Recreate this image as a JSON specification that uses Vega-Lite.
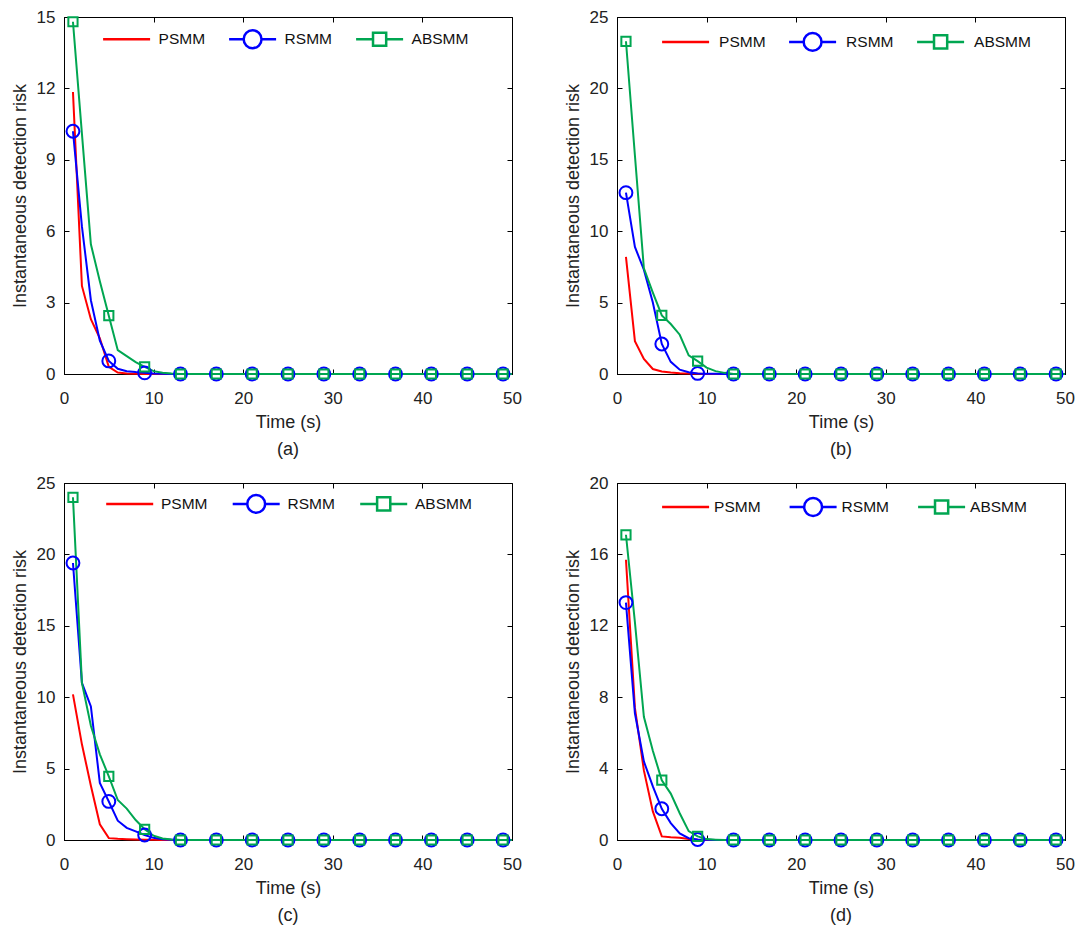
{
  "$schema": "https://vega.github.io/schema/vega-lite/v6.json",
  "padding": {"left": 10, "top": 7, "right": 5, "bottom": 5},
  "background": "white",
  "datasets": {
    "risk": [
      {"panel":"a","method":"PSMM","t":1,"risk":11.85},{"panel":"a","method":"PSMM","t":2,"risk":3.7},{"panel":"a","method":"PSMM","t":3,"risk":2.3},{"panel":"a","method":"PSMM","t":4,"risk":1.5},{"panel":"a","method":"PSMM","t":5,"risk":0.3},{"panel":"a","method":"PSMM","t":6,"risk":0.06},{"panel":"a","method":"PSMM","t":7,"risk":0.02},{"panel":"a","method":"PSMM","t":8,"risk":0.01},{"panel":"a","method":"PSMM","t":9,"risk":0},{"panel":"a","method":"PSMM","t":10,"risk":0},{"panel":"a","method":"PSMM","t":50,"risk":0},
      {"panel":"a","method":"RSMM","t":1,"risk":10.2},{"panel":"a","method":"RSMM","t":2,"risk":6.2},{"panel":"a","method":"RSMM","t":3,"risk":3.1},{"panel":"a","method":"RSMM","t":4,"risk":1.4},{"panel":"a","method":"RSMM","t":5,"risk":0.55},{"panel":"a","method":"RSMM","t":6,"risk":0.22},{"panel":"a","method":"RSMM","t":7,"risk":0.12},{"panel":"a","method":"RSMM","t":8,"risk":0.08},{"panel":"a","method":"RSMM","t":9,"risk":0.05},{"panel":"a","method":"RSMM","t":10,"risk":0.02},{"panel":"a","method":"RSMM","t":11,"risk":0.01},{"panel":"a","method":"RSMM","t":12,"risk":0},{"panel":"a","method":"RSMM","t":13,"risk":0},{"panel":"a","method":"RSMM","t":17,"risk":0},{"panel":"a","method":"RSMM","t":21,"risk":0},{"panel":"a","method":"RSMM","t":25,"risk":0},{"panel":"a","method":"RSMM","t":29,"risk":0},{"panel":"a","method":"RSMM","t":33,"risk":0},{"panel":"a","method":"RSMM","t":37,"risk":0},{"panel":"a","method":"RSMM","t":41,"risk":0},{"panel":"a","method":"RSMM","t":45,"risk":0},{"panel":"a","method":"RSMM","t":49,"risk":0},{"panel":"a","method":"RSMM","t":50,"risk":0},
      {"panel":"a","method":"ABSMM","t":1,"risk":14.8},{"panel":"a","method":"ABSMM","t":2,"risk":10.1},{"panel":"a","method":"ABSMM","t":3,"risk":5.45},{"panel":"a","method":"ABSMM","t":4,"risk":3.9},{"panel":"a","method":"ABSMM","t":5,"risk":2.45},{"panel":"a","method":"ABSMM","t":6,"risk":1.0},{"panel":"a","method":"ABSMM","t":7,"risk":0.75},{"panel":"a","method":"ABSMM","t":8,"risk":0.5},{"panel":"a","method":"ABSMM","t":9,"risk":0.3},{"panel":"a","method":"ABSMM","t":10,"risk":0.12},{"panel":"a","method":"ABSMM","t":11,"risk":0.05},{"panel":"a","method":"ABSMM","t":12,"risk":0.02},{"panel":"a","method":"ABSMM","t":13,"risk":0},{"panel":"a","method":"ABSMM","t":17,"risk":0},{"panel":"a","method":"ABSMM","t":21,"risk":0},{"panel":"a","method":"ABSMM","t":25,"risk":0},{"panel":"a","method":"ABSMM","t":29,"risk":0},{"panel":"a","method":"ABSMM","t":33,"risk":0},{"panel":"a","method":"ABSMM","t":37,"risk":0},{"panel":"a","method":"ABSMM","t":41,"risk":0},{"panel":"a","method":"ABSMM","t":45,"risk":0},{"panel":"a","method":"ABSMM","t":49,"risk":0},{"panel":"a","method":"ABSMM","t":50,"risk":0},

      {"panel":"b","method":"PSMM","t":1,"risk":8.2},{"panel":"b","method":"PSMM","t":2,"risk":2.3},{"panel":"b","method":"PSMM","t":3,"risk":1.05},{"panel":"b","method":"PSMM","t":4,"risk":0.35},{"panel":"b","method":"PSMM","t":5,"risk":0.18},{"panel":"b","method":"PSMM","t":6,"risk":0.1},{"panel":"b","method":"PSMM","t":7,"risk":0.05},{"panel":"b","method":"PSMM","t":8,"risk":0.03},{"panel":"b","method":"PSMM","t":9,"risk":0.01},{"panel":"b","method":"PSMM","t":10,"risk":0},{"panel":"b","method":"PSMM","t":50,"risk":0},
      {"panel":"b","method":"RSMM","t":1,"risk":12.7},{"panel":"b","method":"RSMM","t":2,"risk":8.9},{"panel":"b","method":"RSMM","t":3,"risk":7.3},{"panel":"b","method":"RSMM","t":4,"risk":5.0},{"panel":"b","method":"RSMM","t":5,"risk":2.1},{"panel":"b","method":"RSMM","t":6,"risk":0.85},{"panel":"b","method":"RSMM","t":7,"risk":0.3},{"panel":"b","method":"RSMM","t":8,"risk":0.12},{"panel":"b","method":"RSMM","t":9,"risk":0.04},{"panel":"b","method":"RSMM","t":10,"risk":0.02},{"panel":"b","method":"RSMM","t":11,"risk":0.01},{"panel":"b","method":"RSMM","t":12,"risk":0},{"panel":"b","method":"RSMM","t":13,"risk":0},{"panel":"b","method":"RSMM","t":17,"risk":0},{"panel":"b","method":"RSMM","t":21,"risk":0},{"panel":"b","method":"RSMM","t":25,"risk":0},{"panel":"b","method":"RSMM","t":29,"risk":0},{"panel":"b","method":"RSMM","t":33,"risk":0},{"panel":"b","method":"RSMM","t":37,"risk":0},{"panel":"b","method":"RSMM","t":41,"risk":0},{"panel":"b","method":"RSMM","t":45,"risk":0},{"panel":"b","method":"RSMM","t":49,"risk":0},{"panel":"b","method":"RSMM","t":50,"risk":0},
      {"panel":"b","method":"ABSMM","t":1,"risk":23.3},{"panel":"b","method":"ABSMM","t":2,"risk":15.3},{"panel":"b","method":"ABSMM","t":3,"risk":7.4},{"panel":"b","method":"ABSMM","t":4,"risk":5.7},{"panel":"b","method":"ABSMM","t":5,"risk":4.1},{"panel":"b","method":"ABSMM","t":6,"risk":3.5},{"panel":"b","method":"ABSMM","t":7,"risk":2.75},{"panel":"b","method":"ABSMM","t":8,"risk":1.3},{"panel":"b","method":"ABSMM","t":9,"risk":0.9},{"panel":"b","method":"ABSMM","t":10,"risk":0.45},{"panel":"b","method":"ABSMM","t":11,"risk":0.2},{"panel":"b","method":"ABSMM","t":12,"risk":0.08},{"panel":"b","method":"ABSMM","t":13,"risk":0},{"panel":"b","method":"ABSMM","t":17,"risk":0},{"panel":"b","method":"ABSMM","t":21,"risk":0},{"panel":"b","method":"ABSMM","t":25,"risk":0},{"panel":"b","method":"ABSMM","t":29,"risk":0},{"panel":"b","method":"ABSMM","t":33,"risk":0},{"panel":"b","method":"ABSMM","t":37,"risk":0},{"panel":"b","method":"ABSMM","t":41,"risk":0},{"panel":"b","method":"ABSMM","t":45,"risk":0},{"panel":"b","method":"ABSMM","t":49,"risk":0},{"panel":"b","method":"ABSMM","t":50,"risk":0},

      {"panel":"c","method":"PSMM","t":1,"risk":10.2},{"panel":"c","method":"PSMM","t":2,"risk":6.7},{"panel":"c","method":"PSMM","t":3,"risk":3.8},{"panel":"c","method":"PSMM","t":4,"risk":1.1},{"panel":"c","method":"PSMM","t":5,"risk":0.13},{"panel":"c","method":"PSMM","t":6,"risk":0.08},{"panel":"c","method":"PSMM","t":7,"risk":0.05},{"panel":"c","method":"PSMM","t":8,"risk":0.03},{"panel":"c","method":"PSMM","t":9,"risk":0.02},{"panel":"c","method":"PSMM","t":10,"risk":0.01},{"panel":"c","method":"PSMM","t":11,"risk":0},{"panel":"c","method":"PSMM","t":50,"risk":0},
      {"panel":"c","method":"RSMM","t":1,"risk":19.4},{"panel":"c","method":"RSMM","t":2,"risk":11.0},{"panel":"c","method":"RSMM","t":3,"risk":9.35},{"panel":"c","method":"RSMM","t":4,"risk":4.0},{"panel":"c","method":"RSMM","t":5,"risk":2.7},{"panel":"c","method":"RSMM","t":6,"risk":1.35},{"panel":"c","method":"RSMM","t":7,"risk":0.85},{"panel":"c","method":"RSMM","t":8,"risk":0.6},{"panel":"c","method":"RSMM","t":9,"risk":0.35},{"panel":"c","method":"RSMM","t":10,"risk":0.15},{"panel":"c","method":"RSMM","t":11,"risk":0.05},{"panel":"c","method":"RSMM","t":12,"risk":0.02},{"panel":"c","method":"RSMM","t":13,"risk":0},{"panel":"c","method":"RSMM","t":17,"risk":0},{"panel":"c","method":"RSMM","t":21,"risk":0},{"panel":"c","method":"RSMM","t":25,"risk":0},{"panel":"c","method":"RSMM","t":29,"risk":0},{"panel":"c","method":"RSMM","t":33,"risk":0},{"panel":"c","method":"RSMM","t":37,"risk":0},{"panel":"c","method":"RSMM","t":41,"risk":0},{"panel":"c","method":"RSMM","t":45,"risk":0},{"panel":"c","method":"RSMM","t":49,"risk":0},{"panel":"c","method":"RSMM","t":50,"risk":0},
      {"panel":"c","method":"ABSMM","t":1,"risk":24.0},{"panel":"c","method":"ABSMM","t":2,"risk":11.0},{"panel":"c","method":"ABSMM","t":3,"risk":8.0},{"panel":"c","method":"ABSMM","t":4,"risk":6.0},{"panel":"c","method":"ABSMM","t":5,"risk":4.45},{"panel":"c","method":"ABSMM","t":6,"risk":2.8},{"panel":"c","method":"ABSMM","t":7,"risk":2.2},{"panel":"c","method":"ABSMM","t":8,"risk":1.4},{"panel":"c","method":"ABSMM","t":9,"risk":0.75},{"panel":"c","method":"ABSMM","t":10,"risk":0.3},{"panel":"c","method":"ABSMM","t":11,"risk":0.1},{"panel":"c","method":"ABSMM","t":12,"risk":0.03},{"panel":"c","method":"ABSMM","t":13,"risk":0},{"panel":"c","method":"ABSMM","t":17,"risk":0},{"panel":"c","method":"ABSMM","t":21,"risk":0},{"panel":"c","method":"ABSMM","t":25,"risk":0},{"panel":"c","method":"ABSMM","t":29,"risk":0},{"panel":"c","method":"ABSMM","t":33,"risk":0},{"panel":"c","method":"ABSMM","t":37,"risk":0},{"panel":"c","method":"ABSMM","t":41,"risk":0},{"panel":"c","method":"ABSMM","t":45,"risk":0},{"panel":"c","method":"ABSMM","t":49,"risk":0},{"panel":"c","method":"ABSMM","t":50,"risk":0},

      {"panel":"d","method":"PSMM","t":1,"risk":15.7},{"panel":"d","method":"PSMM","t":2,"risk":7.4},{"panel":"d","method":"PSMM","t":3,"risk":3.9},{"panel":"d","method":"PSMM","t":4,"risk":1.6},{"panel":"d","method":"PSMM","t":5,"risk":0.2},{"panel":"d","method":"PSMM","t":6,"risk":0.15},{"panel":"d","method":"PSMM","t":7,"risk":0.12},{"panel":"d","method":"PSMM","t":8,"risk":0.06},{"panel":"d","method":"PSMM","t":9,"risk":0.02},{"panel":"d","method":"PSMM","t":10,"risk":0},{"panel":"d","method":"PSMM","t":50,"risk":0},
      {"panel":"d","method":"RSMM","t":1,"risk":13.3},{"panel":"d","method":"RSMM","t":2,"risk":7.1},{"panel":"d","method":"RSMM","t":3,"risk":4.4},{"panel":"d","method":"RSMM","t":4,"risk":3.0},{"panel":"d","method":"RSMM","t":5,"risk":1.75},{"panel":"d","method":"RSMM","t":6,"risk":0.95},{"panel":"d","method":"RSMM","t":7,"risk":0.37},{"panel":"d","method":"RSMM","t":8,"risk":0.1},{"panel":"d","method":"RSMM","t":9,"risk":0.03},{"panel":"d","method":"RSMM","t":10,"risk":0.01},{"panel":"d","method":"RSMM","t":11,"risk":0},{"panel":"d","method":"RSMM","t":12,"risk":0},{"panel":"d","method":"RSMM","t":13,"risk":0},{"panel":"d","method":"RSMM","t":17,"risk":0},{"panel":"d","method":"RSMM","t":21,"risk":0},{"panel":"d","method":"RSMM","t":25,"risk":0},{"panel":"d","method":"RSMM","t":29,"risk":0},{"panel":"d","method":"RSMM","t":33,"risk":0},{"panel":"d","method":"RSMM","t":37,"risk":0},{"panel":"d","method":"RSMM","t":41,"risk":0},{"panel":"d","method":"RSMM","t":45,"risk":0},{"panel":"d","method":"RSMM","t":49,"risk":0},{"panel":"d","method":"RSMM","t":50,"risk":0},
      {"panel":"d","method":"ABSMM","t":1,"risk":17.1},{"panel":"d","method":"ABSMM","t":2,"risk":12.2},{"panel":"d","method":"ABSMM","t":3,"risk":6.9},{"panel":"d","method":"ABSMM","t":4,"risk":5.0},{"panel":"d","method":"ABSMM","t":5,"risk":3.35},{"panel":"d","method":"ABSMM","t":6,"risk":2.6},{"panel":"d","method":"ABSMM","t":7,"risk":1.5},{"panel":"d","method":"ABSMM","t":8,"risk":0.5},{"panel":"d","method":"ABSMM","t":9,"risk":0.2},{"panel":"d","method":"ABSMM","t":10,"risk":0.05},{"panel":"d","method":"ABSMM","t":11,"risk":0.02},{"panel":"d","method":"ABSMM","t":12,"risk":0},{"panel":"d","method":"ABSMM","t":13,"risk":0},{"panel":"d","method":"ABSMM","t":17,"risk":0},{"panel":"d","method":"ABSMM","t":21,"risk":0},{"panel":"d","method":"ABSMM","t":25,"risk":0},{"panel":"d","method":"ABSMM","t":29,"risk":0},{"panel":"d","method":"ABSMM","t":33,"risk":0},{"panel":"d","method":"ABSMM","t":37,"risk":0},{"panel":"d","method":"ABSMM","t":41,"risk":0},{"panel":"d","method":"ABSMM","t":45,"risk":0},{"panel":"d","method":"ABSMM","t":49,"risk":0},{"panel":"d","method":"ABSMM","t":50,"risk":0}
    ]
  },
  "config": {
    "font": "Liberation Sans",
    "view": {"stroke": "#000000", "strokeWidth": 1},
    "axis": {
      "labelFont": "Liberation Sans", "labelFontSize": 17, "labelColor": "#222222",
      "titleFont": "Liberation Sans", "titleFontSize": 18, "titleFontWeight": "normal", "titleColor": "#222222",
      "domainColor": "#000000", "domainWidth": 1, "tickColor": "#000000", "tickWidth": 1, "tickSize": -5,
      "grid": false, "labelFlush": false, "labelOverlap": false
    },
    "axisX": {"labelPadding": 21, "titlePadding": 7.5},
    "axisY": {"labelPadding": 14, "titlePadding": 7},
    "legend": {
      "direction": "horizontal", "orient": "none", "padding": 0, "symbolSize": 2209, "symbolStrokeWidth": 2.5,
      "labelFont": "Liberation Sans", "labelFontSize": 15.5, "labelColor": "#111111"
    },
    "title": {"font": "Liberation Sans", "fontSize": 18, "fontWeight": "normal", "color": "#222222", "orient": "bottom", "anchor": "middle", "frame": "group", "offset": 9}
  },
  "columns": 2,
  "spacing": {"row": 109, "column": 105},
  "bounds": "flush",
  "resolve": {"scale": {"color": "independent"}, "legend": {"color": "independent"}},
  "concat": [
    {
      "width": 448, "height": 357,
      "title": {"text": "(a)"},
      "data": {"name": "risk"},
      "transform": [{"filter": "datum.panel === 'a'"}],
      "layer": [
        {
          "mark": {"type": "line", "strokeWidth": 2},
          "encoding": {
            "x": {"field": "t", "type": "quantitative", "scale": {"domain": [0, 50], "nice": false}, "axis": {"orient": "bottom", "title": "Time (s)", "values": [0, 10, 20, 30, 40, 50]}},
            "y": {"field": "risk", "type": "quantitative", "scale": {"domain": [0, 15], "nice": false}, "axis": {"orient": "left", "title": "Instantaneous detection risk", "values": [0, 3, 6, 9, 12, 15]}},
            "color": {"field": "method", "type": "nominal", "sort": ["PSMM", "RSMM", "ABSMM"],
              "scale": {"domain": ["PSMM", "RSMM", "ABSMM"], "range": ["#FF0000", "#0000FF", "#00A651"]},
              "legend": {"title": null, "legendX": 37.6, "legendY": -3, "labelOffset": 7, "columnPadding": 18,
                "encode": {"symbols": {"update": {"fill": {"value": "transparent"}, "shape": {"signal": "datum.value === 'PSMM' ? 'M0,-0.45M0,0.45M-1,0H1' : (datum.value === 'RSMM' ? 'M0,-0.45M0,0.45M-1,0H-0.38M0.38,0H1M-0.38,0A0.38,0.38,0,1,1,0.38,0A0.38,0.38,0,1,1,-0.38,0' : 'M0,-0.45M0,0.45M-1,0H-0.28M0.28,0H1M-0.28,-0.28H0.28V0.28H-0.28Z')"}}}}}
            }
          }
        },
        {
          "transform": [{"filter": "datum.method === 'RSMM' && (datum.t - 1) % 4 === 0"}],
          "mark": {"type": "point", "shape": "circle", "size": 165, "strokeWidth": 2, "filled": false, "color": "#0000FF", "opacity": 1},
          "encoding": {
            "x": {"field": "t", "type": "quantitative", "axis": {"orient": "top", "labels": false, "title": null, "values": [10, 20, 30, 40]}},
            "y": {"field": "risk", "type": "quantitative", "axis": {"orient": "right", "labels": false, "title": null, "values": [3, 6, 9, 12]}}
          }
        },
        {
          "transform": [{"filter": "datum.method === 'ABSMM' && (datum.t - 1) % 4 === 0"}],
          "mark": {"type": "point", "shape": "square", "size": 85, "strokeWidth": 2, "filled": false, "color": "#00A651", "opacity": 1},
          "encoding": {
            "x": {"field": "t", "type": "quantitative", "axis": null},
            "y": {"field": "risk", "type": "quantitative", "axis": null}
          }
        }
      ],
      "resolve": {"axis": {"x": "independent", "y": "independent"}}
    },
    {
      "width": 448, "height": 357,
      "title": {"text": "(b)"},
      "data": {"name": "risk"},
      "transform": [{"filter": "datum.panel === 'b'"}],
      "layer": [
        {
          "mark": {"type": "line", "strokeWidth": 2},
          "encoding": {
            "x": {"field": "t", "type": "quantitative", "scale": {"domain": [0, 50], "nice": false}, "axis": {"orient": "bottom", "title": "Time (s)", "values": [0, 10, 20, 30, 40, 50]}},
            "y": {"field": "risk", "type": "quantitative", "scale": {"domain": [0, 25], "nice": false}, "axis": {"orient": "left", "title": "Instantaneous detection risk", "values": [0, 5, 10, 15, 20, 25]}},
            "color": {"field": "method", "type": "nominal", "sort": ["PSMM", "RSMM", "ABSMM"],
              "scale": {"domain": ["PSMM", "RSMM", "ABSMM"], "range": ["#FF0000", "#0000FF", "#00A651"]},
              "legend": {"title": null, "legendX": 43.6, "legendY": -0.3, "labelOffset": 8.5, "columnPadding": 18,
                "encode": {"symbols": {"update": {"fill": {"value": "transparent"}, "shape": {"signal": "datum.value === 'PSMM' ? 'M0,-0.45M0,0.45M-1,0H1' : (datum.value === 'RSMM' ? 'M0,-0.45M0,0.45M-1,0H-0.38M0.38,0H1M-0.38,0A0.38,0.38,0,1,1,0.38,0A0.38,0.38,0,1,1,-0.38,0' : 'M0,-0.45M0,0.45M-1,0H-0.28M0.28,0H1M-0.28,-0.28H0.28V0.28H-0.28Z')"}}}}}
            }
          }
        },
        {
          "transform": [{"filter": "datum.method === 'RSMM' && (datum.t - 1) % 4 === 0"}],
          "mark": {"type": "point", "shape": "circle", "size": 165, "strokeWidth": 2, "filled": false, "color": "#0000FF", "opacity": 1},
          "encoding": {
            "x": {"field": "t", "type": "quantitative", "axis": {"orient": "top", "labels": false, "title": null, "values": [10, 20, 30, 40]}},
            "y": {"field": "risk", "type": "quantitative", "axis": {"orient": "right", "labels": false, "title": null, "values": [5, 10, 15, 20]}}
          }
        },
        {
          "transform": [{"filter": "datum.method === 'ABSMM' && (datum.t - 1) % 4 === 0"}],
          "mark": {"type": "point", "shape": "square", "size": 85, "strokeWidth": 2, "filled": false, "color": "#00A651", "opacity": 1},
          "encoding": {
            "x": {"field": "t", "type": "quantitative", "axis": null},
            "y": {"field": "risk", "type": "quantitative", "axis": null}
          }
        }
      ],
      "resolve": {"axis": {"x": "independent", "y": "independent"}}
    },
    {
      "width": 448, "height": 357,
      "title": {"text": "(c)"},
      "data": {"name": "risk"},
      "transform": [{"filter": "datum.panel === 'c'"}],
      "layer": [
        {
          "mark": {"type": "line", "strokeWidth": 2},
          "encoding": {
            "x": {"field": "t", "type": "quantitative", "scale": {"domain": [0, 50], "nice": false}, "axis": {"orient": "bottom", "title": "Time (s)", "values": [0, 10, 20, 30, 40, 50]}},
            "y": {"field": "risk", "type": "quantitative", "scale": {"domain": [0, 25], "nice": false}, "axis": {"orient": "left", "title": "Instantaneous detection risk", "values": [0, 5, 10, 15, 20, 25]}},
            "color": {"field": "method", "type": "nominal", "sort": ["PSMM", "RSMM", "ABSMM"],
              "scale": {"domain": ["PSMM", "RSMM", "ABSMM"], "range": ["#FF0000", "#0000FF", "#00A651"]},
              "legend": {"title": null, "legendX": 40.7, "legendY": -4.3, "labelOffset": 6.3, "columnPadding": 19.5,
                "encode": {"symbols": {"update": {"fill": {"value": "transparent"}, "shape": {"signal": "datum.value === 'PSMM' ? 'M0,-0.45M0,0.45M-1,0H1' : (datum.value === 'RSMM' ? 'M0,-0.45M0,0.45M-1,0H-0.38M0.38,0H1M-0.38,0A0.38,0.38,0,1,1,0.38,0A0.38,0.38,0,1,1,-0.38,0' : 'M0,-0.45M0,0.45M-1,0H-0.28M0.28,0H1M-0.28,-0.28H0.28V0.28H-0.28Z')"}}}}}
            }
          }
        },
        {
          "transform": [{"filter": "datum.method === 'RSMM' && (datum.t - 1) % 4 === 0"}],
          "mark": {"type": "point", "shape": "circle", "size": 165, "strokeWidth": 2, "filled": false, "color": "#0000FF", "opacity": 1},
          "encoding": {
            "x": {"field": "t", "type": "quantitative", "axis": {"orient": "top", "labels": false, "title": null, "values": [10, 20, 30, 40]}},
            "y": {"field": "risk", "type": "quantitative", "axis": {"orient": "right", "labels": false, "title": null, "values": [5, 10, 15, 20]}}
          }
        },
        {
          "transform": [{"filter": "datum.method === 'ABSMM' && (datum.t - 1) % 4 === 0"}],
          "mark": {"type": "point", "shape": "square", "size": 85, "strokeWidth": 2, "filled": false, "color": "#00A651", "opacity": 1},
          "encoding": {
            "x": {"field": "t", "type": "quantitative", "axis": null},
            "y": {"field": "risk", "type": "quantitative", "axis": null}
          }
        }
      ],
      "resolve": {"axis": {"x": "independent", "y": "independent"}}
    },
    {
      "width": 448, "height": 357,
      "title": {"text": "(d)"},
      "data": {"name": "risk"},
      "transform": [{"filter": "datum.panel === 'd'"}],
      "layer": [
        {
          "mark": {"type": "line", "strokeWidth": 2},
          "encoding": {
            "x": {"field": "t", "type": "quantitative", "scale": {"domain": [0, 50], "nice": false}, "axis": {"orient": "bottom", "title": "Time (s)", "values": [0, 10, 20, 30, 40, 50]}},
            "y": {"field": "risk", "type": "quantitative", "scale": {"domain": [0, 20], "nice": false}, "axis": {"orient": "left", "title": "Instantaneous detection risk", "values": [0, 4, 8, 12, 16, 20]}},
            "color": {"field": "method", "type": "nominal", "sort": ["PSMM", "RSMM", "ABSMM"],
              "scale": {"domain": ["PSMM", "RSMM", "ABSMM"], "range": ["#FF0000", "#0000FF", "#00A651"]},
              "legend": {"title": null, "legendX": 43.6, "legendY": -1.2, "labelOffset": 3.5, "columnPadding": 23.5,
                "encode": {"symbols": {"update": {"fill": {"value": "transparent"}, "shape": {"signal": "datum.value === 'PSMM' ? 'M0,-0.45M0,0.45M-1,0H1' : (datum.value === 'RSMM' ? 'M0,-0.45M0,0.45M-1,0H-0.38M0.38,0H1M-0.38,0A0.38,0.38,0,1,1,0.38,0A0.38,0.38,0,1,1,-0.38,0' : 'M0,-0.45M0,0.45M-1,0H-0.28M0.28,0H1M-0.28,-0.28H0.28V0.28H-0.28Z')"}}}}}
            }
          }
        },
        {
          "transform": [{"filter": "datum.method === 'RSMM' && (datum.t - 1) % 4 === 0"}],
          "mark": {"type": "point", "shape": "circle", "size": 165, "strokeWidth": 2, "filled": false, "color": "#0000FF", "opacity": 1},
          "encoding": {
            "x": {"field": "t", "type": "quantitative", "axis": {"orient": "top", "labels": false, "title": null, "values": [10, 20, 30, 40]}},
            "y": {"field": "risk", "type": "quantitative", "axis": {"orient": "right", "labels": false, "title": null, "values": [4, 8, 12, 16]}}
          }
        },
        {
          "transform": [{"filter": "datum.method === 'ABSMM' && (datum.t - 1) % 4 === 0"}],
          "mark": {"type": "point", "shape": "square", "size": 85, "strokeWidth": 2, "filled": false, "color": "#00A651", "opacity": 1},
          "encoding": {
            "x": {"field": "t", "type": "quantitative", "axis": null},
            "y": {"field": "risk", "type": "quantitative", "axis": null}
          }
        }
      ],
      "resolve": {"axis": {"x": "independent", "y": "independent"}}
    }
  ]
}
